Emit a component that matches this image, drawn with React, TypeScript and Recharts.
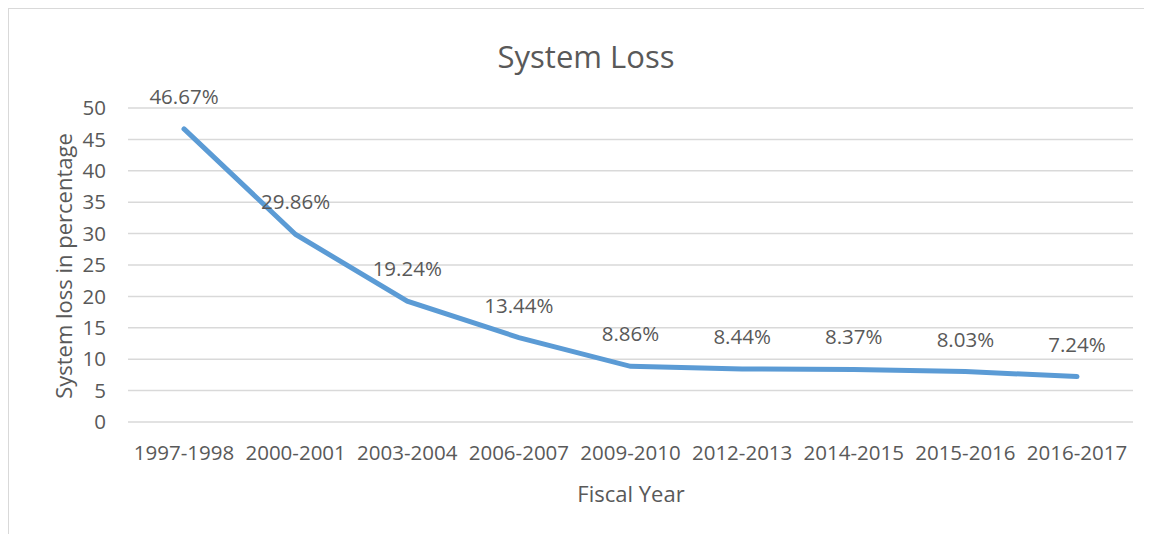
import React from "react";
import { LineChart, Line, XAxis, YAxis, CartesianGrid, LabelList } from "recharts";

const fiscalYears = [
  "1997-1998",
  "2000-2001",
  "2003-2004",
  "2006-2007",
  "2009-2010",
  "2012-2013",
  "2014-2015",
  "2015-2016",
  "2016-2017",
];
const systemLoss = [46.67, 29.86, 19.24, 13.44, 8.86, 8.44, 8.37, 8.03, 7.24];
const yTicks = [0, 5, 10, 15, 20, 25, 30, 35, 40, 45, 50];

const data = fiscalYears.map((year, i) => ({ year, loss: systemLoss[i] }));

const FONT = "'Open Sans', sans-serif";
const TEXT = "#595959";

export default function App() {
  return (
    <div
      style={{
        position: "relative",
        width: 1144,
        height: 526,
        fontFamily: FONT,
        color: TEXT,
        borderLeft: "1px solid #d9d9d9",
        borderTop: "1px solid #d9d9d9",
        boxSizing: "border-box",
      }}
    >
      <div style={{ position: "absolute", left: -1, top: -1 }}>
        <LineChart
          width={1144}
          height={526}
          data={data}
          margin={{ top: 100, right: 19, left: 40, bottom: 62 }}
        >
          <CartesianGrid stroke="#d9d9d9" strokeWidth={1.5} vertical={false} />
          <XAxis
            dataKey="year"
            axisLine={false}
            tickLine={false}
            tickSize={0}
            tickMargin={23}
            height={50}
            interval={0}
            padding={{ left: 56, right: 56 }}
            tick={{ fontSize: 20.5, fill: TEXT, fontFamily: FONT }}
          />
          <YAxis
            domain={[0, 50]}
            ticks={yTicks}
            axisLine={false}
            tickLine={false}
            tickSize={0}
            tickMargin={22}
            width={80}
            tick={{ fontSize: 20.5, fill: TEXT, fontFamily: FONT }}
          />
          <Line
            type="linear"
            dataKey="loss"
            stroke="#5b9bd5"
            strokeWidth={5}
            strokeLinecap="round"
            dot={false}
            activeDot={false}
            isAnimationActive={false}
          >
            <LabelList
              dataKey="loss"
              position="top"
              offset={25}
              formatter={(v: number) => `${v.toFixed(2)}%`}
              style={{ fontSize: 20.5, fill: TEXT, fontFamily: FONT }}
            />
          </Line>
        </LineChart>
      </div>
      <div
        style={{
          position: "absolute",
          left: 577,
          top: 47,
          transform: "translate(-50%, -50%)",
          fontSize: 31,
          whiteSpace: "nowrap",
        }}
      >
        System Loss
      </div>
      <div
        style={{
          position: "absolute",
          left: 622,
          top: 484,
          transform: "translate(-50%, -50%)",
          fontSize: 22,
          whiteSpace: "nowrap",
        }}
      >
        Fiscal Year
      </div>
      <div
        style={{
          position: "absolute",
          left: 54,
          top: 257,
          transform: "translate(-50%, -50%) rotate(-90deg)",
          fontSize: 22,
          whiteSpace: "nowrap",
        }}
      >
        System loss in percentage
      </div>
    </div>
  );
}
